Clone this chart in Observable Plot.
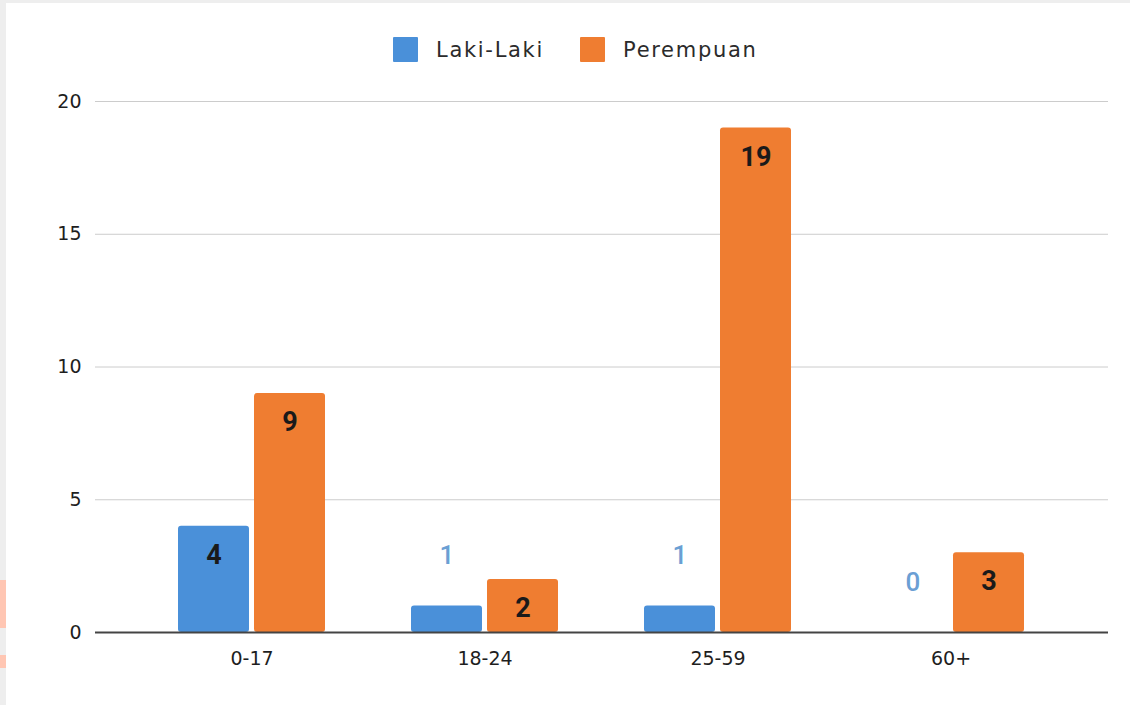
<!DOCTYPE html>
<html>
<head>
<meta charset="utf-8">
<script src="https://cdn.jsdelivr.net/npm/d3@7"></script>
<script src="https://cdn.jsdelivr.net/npm/@observablehq/plot@0.6"></script>
<style>
  html, body { margin: 0; padding: 0; }
  body { width: 1130px; height: 705px; background: #eeeeee; position: relative; overflow: hidden; }
  #panel { position: absolute; left: 6px; top: 3px; width: 1124px; height: 702px; background: #ffffff; }
  .mark { position: absolute; left: 0; width: 6px; background: #ffc6b3; }
  #legend { position: absolute; left: 393px; top: 37px; display: flex; align-items: center; font-family: "DejaVu Sans", sans-serif; font-size: 21px; letter-spacing: 1.7px; color: #2b2b2b; }
  #legend .item { display: flex; align-items: center; margin-right: 36px; }
  #legend .sw { width: 25px; height: 25px; margin-right: 18px; border-radius: 1px; }
  #chart { position: absolute; left: 0; top: 75px; }
</style>
</head>
<body>
<div id="panel"></div>
<div class="mark" style="top:580px;height:48px;"></div>
<div class="mark" style="top:655px;height:13px;"></div>
<div id="legend"></div>
<div id="chart"></div>
<script>
// ---- data ----
const categories = ["0-17", "18-24", "25-59", "60+"];
const series = ["Laki-Laki", "Perempuan"];
const lakiLaki = [4, 1, 1, 0];
const perempuan = [9, 2, 19, 3];
const yTicks = [0, 5, 10, 15, 20];
const colors = ["#4a90d9", "#ef7d31"];

// ---- table ----
const rows = [];
categories.forEach((c, i) => {
  rows.push({age: c, sex: series[0], value: lakiLaki[i]});
  rows.push({age: c, sex: series[1], value: perempuan[i]});
});
const blue = rows.filter(d => d.sex === series[0]);
const orange = rows.filter(d => d.sex === series[1]);
const inside = d => d.value >= 2;

// ---- legend ----
const legend = document.getElementById("legend");
series.forEach((s, i) => {
  const it = document.createElement("div");
  it.className = "item";
  const sw = document.createElement("span");
  sw.className = "sw";
  sw.style.background = colors[i];
  const tx = document.createElement("span");
  tx.textContent = s;
  it.appendChild(sw); it.appendChild(tx);
  legend.appendChild(it);
});

// ---- chart ----
const labelFont = {fontFamily: "Roboto", fontWeight: "bold", fontSize: 27, fill: "#1a1a1a", lineAnchor: "middle"};
const outFont = {fontFamily: "Roboto", fontWeight: 500, fontSize: 26, lineAnchor: "middle"};
const chart = Plot.plot({
  width: 1130,
  height: 630,
  marginLeft: 95,
  marginRight: 22,
  marginTop: 26,
  marginBottom: 73,
  style: {background: "transparent", fontFamily: "DejaVu Sans, sans-serif", fontSize: "19px"},
  x: {domain: categories, paddingInner: 0.369, paddingOuter: 0.358, label: null},
  y: {domain: [0, 20], label: null},
  color: {domain: series, range: colors},
  marks: [
    Plot.ruleY(yTicks.filter(t => t > 0), {stroke: "#cccccc", strokeWidth: 1}),
    Plot.barY(blue, {x: "age", y: "value", fill: "sex", insetRight: 76, rx: 3}),
    Plot.barY(orange, {x: "age", y: "value", fill: "sex", insetLeft: 76, rx: 3}),
    Plot.ruleY([0], {stroke: "#444", strokeWidth: 2}),
    Plot.axisY({ticks: yTicks, tickSize: 0, tickPadding: 14, fontSize: 19, fill: "#1e1e1e"}),
    Plot.axisX({tickSize: 0, tickPadding: 19, fontSize: 19, fill: "#1e1e1e"}),
    // labels inside bars
    Plot.text(blue.filter(inside), {x: "age", y: "value", text: d => String(d.value), dx: -38, dy: 29, ...labelFont}),
    Plot.text(orange.filter(inside), {x: "age", y: "value", text: d => String(d.value), dx: 38, dy: 29, ...labelFont}),
    // labels above small bars
    Plot.text(blue.filter(d => !inside(d)), {x: "age", y: "value", text: d => String(d.value), dx: -38, dy: -50, fill: "#6b9fd4", ...outFont}),
    Plot.text(orange.filter(d => !inside(d)), {x: "age", y: "value", text: d => String(d.value), dx: 38, dy: -50, fill: "#f0a070", ...outFont})
  ]
});
document.getElementById("chart").appendChild(chart);
</script>
</body>
</html>
